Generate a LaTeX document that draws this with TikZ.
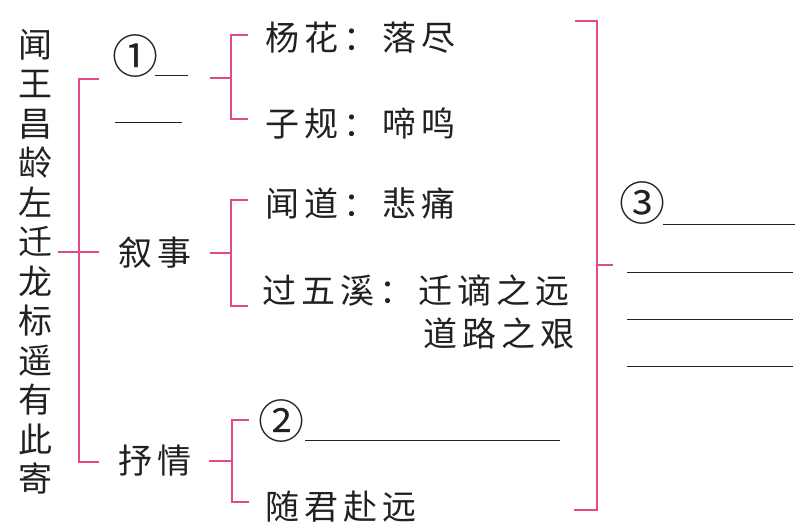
\documentclass[tikz,border=0pt]{standalone}
\usepackage{fontspec}
\newfontfamily\cjk[LetterSpace=15]{Noto Sans CJK SC}
\newfontfamily\cjkplain{Noto Sans CJK SC}
\usepackage{tikz}
\usetikzlibrary{positioning}
\definecolor{brkpink}{RGB}{226,74,140}
\definecolor{inkblack}{RGB}{35,32,32}
\tikzset{
  brk/.style={brkpink, line width=1.2pt},
  blank/.style={inkblack, line width=1pt},
  txt/.style={inner sep=0pt, text=inkblack, font=\cjk\fontsize{34}{38}\selectfont},
  wtxt/.style={txt, anchor=west},
  num/.style={inner sep=0pt, text=inkblack, font=\cjkplain\fontsize{46}{46}\selectfont}
}
\begin{document}
\begin{tikzpicture}[x=1pt, y=-1pt]
  \useasboundingbox (0,0) rectangle (804,531);
  % Title, written top to bottom
  \node[txt, align=center, font=\cjkplain\fontsize{34}{39.5}\selectfont] (title) at (35,262)
    {闻\\王\\昌\\龄\\左\\迁\\龙\\标\\遥\\有\\此\\寄};

  % First level
  \node[num] (q1) at (135,56) {①};
  \draw[blank] (155,75) -- (188,75);
  \draw[blank] (115,122) -- (182,122);
  \node[txt, anchor=west] (xushi) at (118,253) {叙事};
  \node[txt, anchor=west] (shuqing) at (118,461) {抒情};

  % Main bracket
  \coordinate (mt) at (79,79);
  \coordinate (mb) at (79,462);
  \draw[brk] (99,79) -- (mt) -- (mb) -- (99,462);
  \draw[brk] (58,252) -- (99,252);

  % Second level: scenery
  \node[wtxt] (yanghua) at (265,38) {杨花：落尽};
  \node[wtxt] (zigui) at (265,124) {子规：啼鸣};
  \draw[brk] (210,78) -- (231,78);
  \draw[brk] (248,35) -- (231,35) -- (231,119) -- (248,119);

  % Second level: narration
  \node[wtxt] (wendao) at (265,203) {闻道：悲痛};
  \node[wtxt] (guowuxi) at (262,290) {过五溪：迁谪之远};
  \node[wtxt] (daolu) at (423,333) {道路之艰};
  \draw[brk] (210,253) -- (231,253);
  \draw[brk] (248,200) -- (231,200) -- (231,306) -- (248,306);

  % Second level: feeling
  \node[num] (q2) at (281,421) {②};
  \draw[blank] (305,440) -- (560,440);
  \node[wtxt] (suijun) at (265,507) {随君赴远};
  \draw[brk] (209,461) -- (232,461);
  \draw[brk] (249,420) -- (232,420) -- (232,502) -- (249,502);

  % Right bracket
  \coordinate (rt) at (597,21);
  \coordinate (rb) at (597,510);
  \draw[brk] (575,21) -- (rt) -- (rb) -- (574,510);
  \draw[brk] (597,265) -- (613,265);

  % Answer blank
  \node[num] (q3) at (642,203) {③};
  \draw[blank] (663,224) -- (795,224);
  \foreach \y in {272,319,366}
    \draw[blank] (627,\y) -- (793,\y);
\end{tikzpicture}
\end{document}
